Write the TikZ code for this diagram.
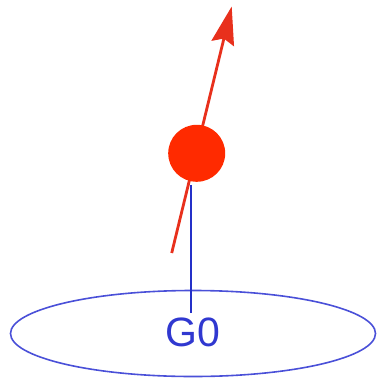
\documentclass[tikz,border=0pt]{standalone}
\usepackage{fontspec}
\setmainfont{Liberation Sans}
\usetikzlibrary{arrows.meta}
\definecolor{ballred}{HTML}{FF2A00}
\definecolor{arrowred}{HTML}{E8301C}
\definecolor{stemblue}{HTML}{2430C8}
\definecolor{diskblue}{HTML}{4A50D8}
\definecolor{textblue}{HTML}{3038D0}
\tikzset{
  ballstyle/.style={circle, fill=ballred, draw=none, minimum size=57pt, inner sep=0pt},
  diskstyle/.style={ellipse, draw=diskblue, line width=1.6pt, minimum width=365pt, minimum height=86pt, inner sep=0pt},
  labelstyle/.style={text=textblue, font=\fontsize{41}{41}\selectfont, inner sep=0pt, anchor=base},
  spinarrow/.style={draw=arrowred, line width=2.8pt, -{Stealth[length=38pt,width=23pt,inset=5pt]}},
  stemline/.style={draw=stemblue, line width=1.8pt}
}
\usetikzlibrary{shapes.geometric}
\begin{document}
\begin{tikzpicture}[x=1pt,y=1pt]
\useasboundingbox (0,0) rectangle (378,-379);
\node[diskstyle] (disk) at (193,-333.5) {};
\node[labelstyle] (g0) at (192.5,-346.5) {G0};
\coordinate (tail) at (171.7,-253);
\coordinate (tip) at (231.7,-6.5);
\draw[spinarrow] (tail) -- (tip);
\coordinate (stemtop) at (190.8,-185);
\coordinate (stembot) at (190.8,-313);
\draw[stemline] (stembot) -- (stemtop);
\node[ballstyle] (ball) at (196.7,-153.3) {};
\end{tikzpicture}
\end{document}
